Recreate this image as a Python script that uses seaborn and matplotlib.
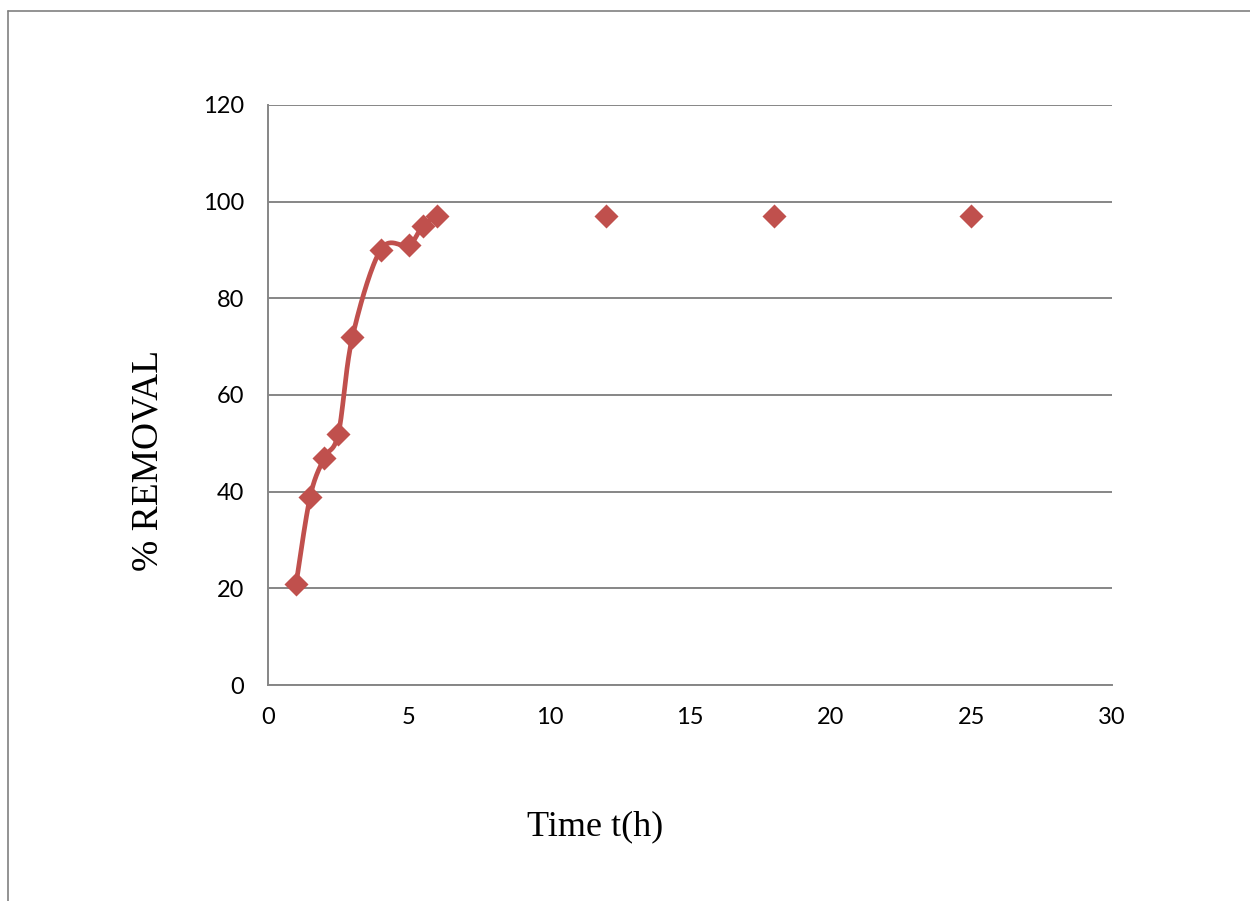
import numpy as np
import pandas as pd
import matplotlib
matplotlib.use("Agg")
import matplotlib.pyplot as plt
import seaborn as sns
from matplotlib.lines import Line2D

# Removal over time
time_h = [1, 1.5, 2, 2.5, 3, 4, 5, 5.5, 6, 12, 18, 25]
removal = [21, 39, 47, 52, 72, 90, 91, 95, 97, 97, 97, 97]
# number of leading points joined by the smoothed line
n_joined = 9

x_ticks = [0, 5, 10, 15, 20, 25, 30]
y_ticks = [0, 20, 40, 60, 80, 100, 120]

red = "#C0504D"
grid_gray = "#868686"

sns.set_theme(style="white")
plt.rcParams["font.family"] = ["Lato", "DejaVu Sans"]
plt.rcParams["text.color"] = "black"

df = pd.DataFrame({"time": time_h, "removal": removal})

fig = plt.figure(figsize=(12.5, 9.01), dpi=100)
ax = fig.add_axes([0.2144, 0.2397, 0.8896 - 0.2144, 0.8835 - 0.2397])


def smooth_path(xs, ys, steps=30):
    """Catmull-Rom style smoothing through the given points."""
    p = np.column_stack([xs, ys]).astype(float)
    out = [p[0]]
    n = len(p)
    for i in range(n - 1):
        p0 = p[i - 1] if i > 0 else p[i]
        p1 = p[i]
        p2 = p[i + 1]
        p3 = p[i + 2] if i + 2 < n else p[i + 1]
        c1 = p1 + (p2 - p0) / 6.0
        c2 = p2 - (p3 - p1) / 6.0
        t = np.linspace(0, 1, steps)[1:, None]
        seg = ((1 - t) ** 3) * p1 + 3 * ((1 - t) ** 2) * t * c1 + 3 * (1 - t) * t ** 2 * c2 + t ** 3 * p2
        out.extend(seg)
    out = np.array(out)
    return out[:, 0], out[:, 1]


sx, sy = smooth_path(df["time"][:n_joined], df["removal"][:n_joined])
ax.plot(sx, sy, color=red, lw=3.4, solid_capstyle="round", zorder=3)

sns.scatterplot(data=df, x="time", y="removal", marker="D", s=150,
                color=red, edgecolor=red, linewidth=0, ax=ax, zorder=4)

ax.set_xlim(0, 30)
ax.set_ylim(0, 120)
ax.set_xticks(x_ticks)
ax.set_yticks(y_ticks)
ax.yaxis.grid(True, color=grid_gray, lw=1.4)
ax.xaxis.grid(False)
ax.set_axisbelow(True)

for s in ["top", "right"]:
    ax.spines[s].set_visible(False)
for s in ["left", "bottom"]:
    ax.spines[s].set_color(grid_gray)
    ax.spines[s].set_linewidth(1.4)

ax.tick_params(axis="both", which="major", direction="out", length=6,
               width=1.4, color=grid_gray, labelsize=17, labelcolor="black")
ax.tick_params(axis="y", pad=11)
ax.tick_params(axis="x", pad=10)

ax.set_xlabel("")
ax.set_ylabel("")
fig.text(595 / 1250, 1 - 827 / 901, "Time t(h)", family="Liberation Serif",
         fontsize=26, ha="center", va="center", color="black")
fig.text(148 / 1250, 1 - 460 / 901, "% REMOVAL", family="Liberation Serif",
         fontsize=27, ha="center", va="center", rotation=90, color="black")

# outer chart frame (top and left edges)
fig.add_artist(Line2D([8 / 1250, 8 / 1250], [0, 1 - 11 / 901], color="#808080", lw=1.2))
fig.add_artist(Line2D([8 / 1250, 1], [1 - 11 / 901, 1 - 11 / 901], color="#808080", lw=1.2))

fig.savefig("out.png", dpi=100, facecolor="white")
